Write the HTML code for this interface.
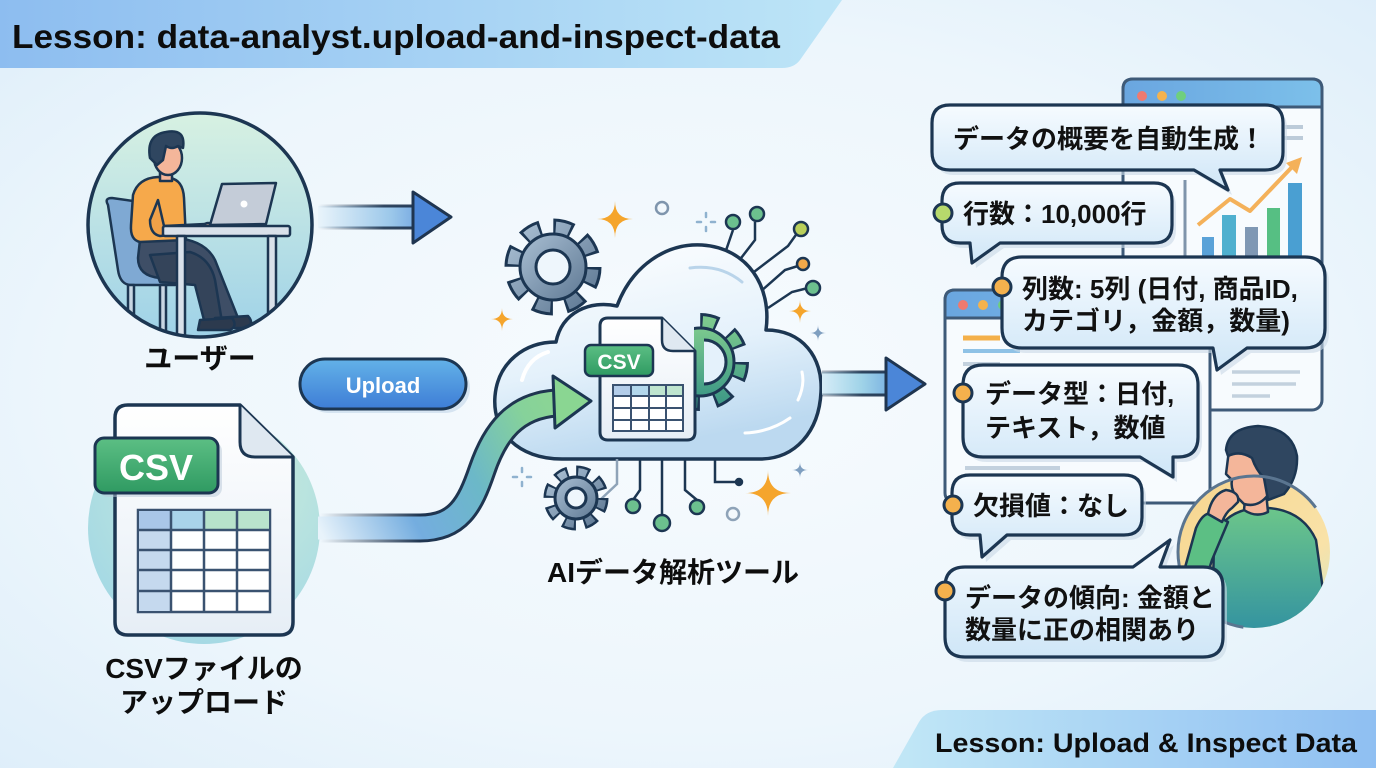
<!DOCTYPE html>
<html><head><meta charset="utf-8"><style>
html,body{margin:0;padding:0;background:#eef7fc;}
svg{display:block;}
text{font-family:"Liberation Sans","Noto Sans CJK JP",sans-serif;font-weight:bold;}
</style></head><body>
<svg width="1376" height="768" viewBox="0 0 1376 768" xmlns="http://www.w3.org/2000/svg">
<defs>
 <radialGradient id="bg" cx="0.5" cy="0.5" r="0.75">
  <stop offset="0" stop-color="#f7fbfe"/><stop offset="0.6" stop-color="#edf6fc"/><stop offset="1" stop-color="#dcedf9"/>
 </radialGradient>
 <linearGradient id="hdr" x1="0" y1="0" x2="1" y2="0">
  <stop offset="0" stop-color="#8dbdf0"/><stop offset="1" stop-color="#bde5f7"/>
 </linearGradient>
 <linearGradient id="ftr" x1="0" y1="0" x2="1" y2="0">
  <stop offset="0" stop-color="#c1e7f6"/><stop offset="1" stop-color="#8fbff2"/>
 </linearGradient>
 <linearGradient id="ucirc" x1="0" y1="0" x2="0" y2="1">
  <stop offset="0" stop-color="#d7f1e2"/><stop offset="1" stop-color="#9fd2e8"/>
 </linearGradient>
 <radialGradient id="csvcirc" cx="0.6" cy="0.3" r="0.8">
  <stop offset="0" stop-color="#c8ecd6"/><stop offset="1" stop-color="#98d3e3"/>
 </radialGradient>
 <linearGradient id="arr1" x1="318" y1="0" x2="450" y2="0" gradientUnits="userSpaceOnUse">
  <stop offset="0" stop-color="#e9f4fb"/><stop offset="0.55" stop-color="#9cc8ea"/><stop offset="1" stop-color="#4b86d8"/>
 </linearGradient>
 <linearGradient id="arr1s" x1="318" y1="0" x2="450" y2="0" gradientUnits="userSpaceOnUse">
  <stop offset="0" stop-color="#1f3550" stop-opacity="0"/><stop offset="0.5" stop-color="#1f3550" stop-opacity="0.9"/><stop offset="1" stop-color="#1f3550"/>
 </linearGradient>
 <linearGradient id="arr3" x1="820" y1="0" x2="925" y2="0" gradientUnits="userSpaceOnUse">
  <stop offset="0" stop-color="#d9eef8"/><stop offset="0.4" stop-color="#9fd3e8"/><stop offset="1" stop-color="#4b86d8"/>
 </linearGradient>
 <linearGradient id="arr3s" x1="820" y1="0" x2="925" y2="0" gradientUnits="userSpaceOnUse">
  <stop offset="0" stop-color="#1f3550" stop-opacity="0.3"/><stop offset="0.4" stop-color="#1f3550" stop-opacity="0.9"/><stop offset="1" stop-color="#1f3550"/>
 </linearGradient>
 <linearGradient id="arr2" x1="320" y1="530" x2="580" y2="395" gradientUnits="userSpaceOnUse">
  <stop offset="0" stop-color="#e8f3fb"/><stop offset="0.3" stop-color="#74addf"/><stop offset="0.55" stop-color="#6cb8c8"/><stop offset="0.8" stop-color="#86d29a"/><stop offset="1" stop-color="#8fd690"/>
 </linearGradient>
 <linearGradient id="arr2s" x1="320" y1="0" x2="420" y2="0" gradientUnits="userSpaceOnUse">
  <stop offset="0" stop-color="#1f3550" stop-opacity="0"/><stop offset="1" stop-color="#1f3550"/>
 </linearGradient>
 <linearGradient id="pill" x1="0" y1="0" x2="0" y2="1">
  <stop offset="0" stop-color="#63b2e8"/><stop offset="1" stop-color="#3e7dd6"/>
 </linearGradient>
 <linearGradient id="cloud" x1="0" y1="0" x2="0.3" y2="1">
  <stop offset="0" stop-color="#ffffff"/><stop offset="0.6" stop-color="#e4f1fb"/><stop offset="1" stop-color="#bcd9f0"/>
 </linearGradient>
 <linearGradient id="doc" x1="0" y1="0" x2="0" y2="1">
  <stop offset="0" stop-color="#ffffff"/><stop offset="1" stop-color="#e6eef6"/>
 </linearGradient>
 <linearGradient id="green" x1="0" y1="0" x2="0" y2="1">
  <stop offset="0" stop-color="#5cbf84"/><stop offset="1" stop-color="#2f9a62"/>
 </linearGradient>
 <linearGradient id="gear" x1="0" y1="0" x2="1" y2="1">
  <stop offset="0" stop-color="#a9bfd3"/><stop offset="1" stop-color="#5f7994"/>
 </linearGradient>
 <linearGradient id="ggear" x1="0" y1="0" x2="0" y2="1">
  <stop offset="0" stop-color="#7cc98e"/><stop offset="1" stop-color="#3f9a86"/>
 </linearGradient>
 <linearGradient id="bub" x1="0" y1="0" x2="0" y2="1">
  <stop offset="0" stop-color="#f6fbff"/><stop offset="1" stop-color="#cfe6f7"/>
 </linearGradient>
 <linearGradient id="winbar" x1="0" y1="0" x2="1" y2="0">
  <stop offset="0" stop-color="#6aa6e0"/><stop offset="1" stop-color="#7cc0ea"/>
 </linearGradient>
 <linearGradient id="tcirc" x1="0" y1="0" x2="1" y2="1">
  <stop offset="0" stop-color="#f6d58e"/><stop offset="0.7" stop-color="#f9e2a8"/><stop offset="1" stop-color="#cfe6c8"/>
 </linearGradient>
 <linearGradient id="shirt" x1="0" y1="0" x2="0" y2="1">
  <stop offset="0" stop-color="#6cc68a"/><stop offset="1" stop-color="#2f8fa2"/>
 </linearGradient>
 <clipPath id="uclip"><circle cx="200" cy="225" r="112"/></clipPath>
 <clipPath id="tclip"><rect x="1100" y="380" width="276" height="170"/><circle cx="1254" cy="552" r="76"/></clipPath>
 <clipPath id="gclip"><rect x="694" y="300" width="60" height="120"/></clipPath>
</defs>

<!-- background -->
<rect width="1376" height="768" fill="url(#bg)"/>

<!-- header -->
<path d="M0 0 H842 L800 60 Q794 68 782 68 H0 Z" fill="url(#hdr)"/>
<text x="12" y="48" font-size="33" fill="#0d0d0d" textLength="768" lengthAdjust="spacingAndGlyphs">Lesson: data-analyst.upload-and-inspect-data</text>

<!-- footer -->
<path d="M1376 710 H942 Q926 710 919 722 L893 768 H1376 Z" fill="url(#ftr)"/>
<text x="935" y="752" font-size="27" fill="#0d0d0d" textLength="422" lengthAdjust="spacingAndGlyphs">Lesson: Upload &amp; Inspect Data</text>

<!-- ===== User circle ===== -->
<circle cx="200" cy="225" r="112" fill="url(#ucirc)"/>
<g clip-path="url(#uclip)" stroke="#1c3652" stroke-width="2.5" stroke-linejoin="round">
 <!-- chair -->
 <path d="M108 205 Q104 198 112 198 L140 202 L160 270 L175 272 L175 285 L130 285 Q120 284 118 270 Z" fill="#7fa9d3"/>
 <rect x="128" y="285" width="6" height="60" fill="#c8d6e3"/>
 <rect x="160" y="285" width="6" height="60" fill="#c8d6e3"/>
 <!-- pants -->
 <path d="M140 240 L175 238 Q205 240 215 260 L238 318 L218 322 L196 275 L160 278 Q138 276 138 258 Z" fill="#3e4e66"/>
 <path d="M150 255 L190 252 Q210 258 215 280 L222 322 L205 324 L195 285 L160 282 Z" fill="#34445a"/>
 <path d="M215 318 L248 316 Q255 324 246 328 L212 328 Z" fill="#2c3a4e"/>
 <path d="M200 320 L232 318 Q238 326 230 330 L198 330 Z" fill="#2c3a4e"/>
 <!-- torso -->
 <path d="M133 195 Q138 178 158 177 L170 178 Q183 180 184 198 L186 240 L140 242 Q130 240 131 225 Z" fill="#f6a94b"/>
 <!-- arm -->
 <path d="M158 200 L164 226 L205 224 L205 232 L160 236 Q150 234 150 220 Z" fill="#f0a048"/>
 <circle cx="208" cy="228" r="5" fill="#f4b89a"/>
 <!-- head -->
 <rect x="160" y="165" width="12" height="16" fill="#f4b69a"/>
 <ellipse cx="168" cy="158" rx="14" ry="17" fill="#f4b69a"/>
 <path d="M150 158 Q146 135 166 132 Q186 128 183 148 L178 146 Q172 150 166 146 L163 160 L157 165 Z" fill="#2f4660"/>
 <!-- laptop -->
 <path d="M222 184 L276 183 L266 224 L210 225 Z" fill="#c4ccd8"/>
 <circle cx="244" cy="204" r="3.5" fill="#fff" stroke="none"/>
 <!-- desk -->
 <rect x="163" y="226" width="127" height="10" rx="2" fill="#d9e1ea"/>
 <rect x="177" y="236" width="8" height="110" fill="#d9e1ea"/>
 <rect x="268" y="236" width="8" height="110" fill="#d9e1ea"/>
</g>
<circle cx="200" cy="225" r="112" fill="none" stroke="#1c3652" stroke-width="3.5"/>
<text x="200" y="368" font-size="28" fill="#0d0d0d" text-anchor="middle">ユーザー</text>

<!-- arrow 1 -->
<rect x="318" y="206" width="97" height="22" fill="url(#arr1)"/>
<line x1="318" y1="206" x2="414" y2="206" stroke="url(#arr1s)" stroke-width="3"/>
<line x1="318" y1="228" x2="414" y2="228" stroke="url(#arr1s)" stroke-width="3"/>
<path d="M413 192 L451 217 L413 243 Z" fill="#4b86d8" stroke="#1f3550" stroke-width="3" stroke-linejoin="round"/>

<!-- Upload pill -->
<rect x="304" y="363" width="166" height="50" rx="25" fill="#c9dceb" opacity="0.7"/>
<rect x="300" y="359" width="166" height="50" rx="25" fill="url(#pill)" stroke="#1c3652" stroke-width="3"/>
<text x="383" y="393" font-size="22" fill="#ffffff" text-anchor="middle">Upload</text>

<!-- ===== CSV doc ===== -->
<circle cx="204" cy="528" r="116" fill="url(#csvcirc)" opacity="0.9"/>
<path d="M128 405 H240 L293 457 V622 Q293 635 280 635 H128 Q115 635 115 622 V418 Q115 405 128 405 Z" fill="url(#doc)" stroke="#1c3652" stroke-width="3.5" stroke-linejoin="round"/>
<path d="M240 405 V442 Q240 457 255 457 H293" fill="#dfe8f1" stroke="#1c3652" stroke-width="3" stroke-linejoin="round"/>
<rect x="99" y="442" width="123" height="55" rx="9" fill="#b8c8d8" opacity="0.5"/>
<rect x="95" y="438" width="123" height="55" rx="9" fill="url(#green)" stroke="#1c3652" stroke-width="3"/>
<text x="156" y="480" font-size="36" fill="#ffffff" text-anchor="middle">CSV</text>
<g>
 <rect x="138" y="510" width="132" height="102" fill="#ffffff" stroke="#3a5270" stroke-width="2.5"/>
 <rect x="139" y="511" width="32" height="19" fill="#a9c6e8"/>
 <rect x="171" y="511" width="33" height="19" fill="#a9d3ea"/>
 <rect x="204" y="511" width="33" height="19" fill="#b7e2cb"/>
 <rect x="237" y="511" width="32" height="19" fill="#b9e3cc"/>
 <rect x="139" y="530" width="32" height="81" fill="#c5d9ee"/>
 <path d="M171 510 V612 M204 510 V612 M237 510 V612 M138 530 H270 M138 550 H270 M138 570 H270 M138 591 H270" stroke="#3a5270" stroke-width="2.5" fill="none"/>
</g>
<text x="204" y="678" font-size="28" fill="#0d0d0d" text-anchor="middle">CSVファイルの</text>
<text x="204" y="712" font-size="28" fill="#0d0d0d" text-anchor="middle">アップロード</text>

<!-- ===== Cloud area ===== -->
<!-- big gear -->
<g transform="translate(553,267)">
 <circle r="39" fill="none" stroke="#1c3652" stroke-width="19" stroke-dasharray="18.5 12.13"/>
 <circle r="39" fill="none" stroke="url(#gear)" stroke-width="13" stroke-dasharray="13.5 17.13" stroke-dashoffset="-2.5"/>
 <circle r="33" fill="url(#gear)" stroke="#1c3652" stroke-width="3"/>
 <circle r="17" fill="#eef6fc" stroke="#1c3652" stroke-width="3"/>
</g>
<!-- circuit top -->
<g stroke="#1c3652" stroke-width="2.5" fill="none">
 <path d="M722 262 L733 230"/>
 <path d="M738 262 L755 240 L755 222"/>
 <path d="M750 275 L788 246 L798 232"/>
 <path d="M760 292 L785 270 L798 266"/>
 <path d="M768 308 L792 292 L808 288"/>
</g>
<g stroke="#1c3652" stroke-width="2.5">
 <circle cx="733" cy="222" r="7" fill="#6cc08e"/>
 <circle cx="757" cy="214" r="7" fill="#6cc08e"/>
 <circle cx="801" cy="229" r="7" fill="#b9cf5a"/>
 <circle cx="803" cy="264" r="6" fill="#f2a94a"/>
 <circle cx="813" cy="288" r="7" fill="#6cc08e"/>
</g>
<circle cx="662" cy="208" r="6" fill="none" stroke="#7f95ad" stroke-width="2.5"/>
<!-- cloud -->
<path d="M562 459 C518 459 492 432 495 396 C498 362 525 342 556 342 C562 312 590 300 617 306 C632 266 666 243 702 245 C748 248 772 287 766 330 C802 330 823 357 821 392 C819 432 795 459 760 459 Z" fill="url(#cloud)" stroke="#1c3652" stroke-width="3.5" stroke-linejoin="round"/>
<path d="M522 380 Q528 358 548 352" stroke="#ffffff" stroke-width="4" fill="none" stroke-linecap="round"/>
<path d="M690 268 Q720 264 742 282" stroke="#b9d4ea" stroke-width="3" fill="none" stroke-linecap="round"/>
<path d="M745 433 Q770 432 790 418" stroke="#ffffff" stroke-width="3" fill="none" stroke-linecap="round"/>
<path d="M798 400 Q805 385 802 372" stroke="#ffffff" stroke-width="3" fill="none" stroke-linecap="round"/>
<!-- green gear (in front of cloud, behind doc) -->
<g transform="translate(700,362)" clip-path="url(#gclip)">
 <g transform="translate(-700,-362)"></g>
</g>
<g clip-path="url(#gclip)">
 <g transform="translate(700,362)">
  <circle r="40" fill="none" stroke="#1c3652" stroke-width="18" stroke-dasharray="17 14.4"/>
  <circle r="40" fill="none" stroke="url(#ggear)" stroke-width="12" stroke-dasharray="12 19.4" stroke-dashoffset="-2.5"/>
  <circle r="34" fill="url(#ggear)" stroke="#1c3652" stroke-width="3"/>
  <path d="M4 -22 A22 22 0 0 1 4 22" fill="#e4f1fb" stroke="#1c3652" stroke-width="3"/>
 </g>
</g>
<!-- doc in cloud -->
<path d="M608 318 H662 L695 351 V432 Q695 440 687 440 H608 Q600 440 600 432 V326 Q600 318 608 318 Z" fill="url(#doc)" stroke="#1c3652" stroke-width="3" stroke-linejoin="round"/>
<path d="M662 318 V340 Q662 351 673 351 H695" fill="#dfe8f1" stroke="#1c3652" stroke-width="2.5" stroke-linejoin="round"/>
<rect x="585" y="345" width="68" height="31" rx="6" fill="url(#green)" stroke="#1c3652" stroke-width="2.5"/>
<text x="619" y="369" font-size="21" fill="#ffffff" text-anchor="middle">CSV</text>
<rect x="613" y="385" width="70" height="46" fill="#ffffff" stroke="#3a5270" stroke-width="2"/>
<rect x="614" y="386" width="17" height="10" fill="#b3cde9"/>
<rect x="631" y="386" width="18" height="10" fill="#b3d8ec"/>
<rect x="649" y="386" width="17" height="10" fill="#bfe5cf"/>
<rect x="666" y="386" width="16" height="10" fill="#bfe5cf"/>
<path d="M631 385 V431 M649 385 V431 M666 385 V431 M613 396 H683 M613 408 H683 M613 420 H683" stroke="#3a5270" stroke-width="2" fill="none"/>

<!-- circuit bottom -->
<g stroke="#1c3652" stroke-width="2.5" fill="none">
 <path d="M617 459 V484 L600 500" stroke="#8ea3b8"/>
 <path d="M640 459 V490 L633 500"/>
 <path d="M662 459 V515"/>
 <path d="M685 459 V490 L697 500"/>
 <path d="M715 459 V482 H738"/>
</g>
<g stroke="#1c3652" stroke-width="2.5">
 <circle cx="633" cy="506" r="7" fill="#6cc08e"/>
 <circle cx="662" cy="523" r="8" fill="#6cc08e"/>
 <circle cx="697" cy="507" r="7" fill="#6cc08e"/>
 <circle cx="739" cy="482" r="3" fill="#1c3652"/>
</g>
<circle cx="733" cy="514" r="6" fill="none" stroke="#8ea3b8" stroke-width="2.5"/>
<!-- small gear -->
<g transform="translate(576,498)">
 <circle r="25" fill="none" stroke="#1c3652" stroke-width="15" stroke-dasharray="12 7.63"/>
 <circle r="25" fill="none" stroke="url(#gear)" stroke-width="10" stroke-dasharray="8 11.63" stroke-dashoffset="-2"/>
 <circle r="21" fill="url(#gear)" stroke="#1c3652" stroke-width="3"/>
 <circle r="10" fill="#eef6fc" stroke="#1c3652" stroke-width="3"/>
</g>
<!-- sparkles -->
<g fill="#f5a52c">
 <path d="M615 201 Q615 219 633 219 Q615 219 615 238 Q615 219 597 219 Q615 219 615 201 Z"/>
 <path d="M502 308 Q502 319 513 319 Q502 319 502 331 Q502 319 491 319 Q502 319 502 308 Z"/>
 <path d="M800 300 Q800 311 811 311 Q800 311 800 323 Q800 311 789 311 Q800 311 800 300 Z"/>
 <path d="M768 470 Q768 493 791 493 Q768 493 768 516 Q768 493 745 493 Q768 493 768 470 Z"/>
</g>
<g fill="#7f9fc0">
 <path d="M818 325 Q818 333 826 333 Q818 333 818 341 Q818 333 810 333 Q818 333 818 325 Z"/>
 <path d="M800 462 Q800 470 808 470 Q800 470 800 478 Q800 470 792 470 Q800 470 800 462 Z"/>
</g>
<g stroke="#8fb2cf" stroke-width="2.5" stroke-linecap="round">
 <path d="M706 213 V217 M706 227 V231 M697 222 H701 M711 222 H715"/>
 <path d="M522 468 V472 M522 482 V486 M513 477 H517 M527 477 H531"/>
</g>

<!-- curved arrow -->
<path d="M318 528 H420 C458 528 470 505 482 470 C495 432 515 406 556 403" fill="none" stroke="url(#arr2s)" stroke-width="29"/>
<path d="M318 528 H420 C458 528 470 505 482 470 C495 432 515 406 556 403" fill="none" stroke="url(#arr2)" stroke-width="23"/>
<path d="M553 376 L591 401 L555 428 Z" fill="#8ad692" stroke="#1c3652" stroke-width="3" stroke-linejoin="round"/>

<text x="673" y="582" font-size="28" fill="#0d0d0d" text-anchor="middle">AIデータ解析ツール</text>

<!-- arrow 3 -->
<rect x="822" y="372" width="65" height="23" fill="url(#arr3)"/>
<line x1="822" y1="372" x2="887" y2="372" stroke="url(#arr3s)" stroke-width="3"/>
<line x1="822" y1="395" x2="887" y2="395" stroke="url(#arr3s)" stroke-width="3"/>
<path d="M886 358 L925 384 L886 410 Z" fill="#4b86d8" stroke="#1f3550" stroke-width="3" stroke-linejoin="round"/>

<!-- ===== Right side windows ===== -->
<!-- window A -->
<rect x="1123" y="79" width="199" height="331" rx="10" fill="#f7fbfe" stroke="#3e5a78" stroke-width="3"/>
<path d="M1133 79 H1312 Q1322 79 1322 89 V107 H1123 V89 Q1123 79 1133 79 Z" fill="url(#winbar)" stroke="#3e5a78" stroke-width="3"/>
<circle cx="1142" cy="96" r="5" fill="#ef7a6f"/>
<circle cx="1162" cy="96" r="5" fill="#f4b24e"/>
<circle cx="1181" cy="96" r="5" fill="#6fcf7e"/>
<path d="M1285 127 H1303 M1268 138 H1303" stroke="#bccbd9" stroke-width="4"/>
<line x1="1185" y1="180" x2="1185" y2="256" stroke="#7f94ab" stroke-width="3"/>
<rect x="1202" y="237" width="12" height="19" fill="#5aa2d8"/>
<rect x="1222" y="215" width="14" height="41" fill="#4fb0cf"/>
<rect x="1245" y="227" width="13" height="29" fill="#7f98b4"/>
<rect x="1267" y="208" width="13" height="48" fill="#56bf83"/>
<rect x="1288" y="183" width="14" height="73" fill="#4a9fd2"/>
<path d="M1198 225 L1230 199 L1250 211 L1293 166" stroke="#f4b15a" stroke-width="4" fill="none" stroke-linejoin="round"/>
<path d="M1302 157 L1286 163 L1297 174 Z" fill="#f4b15a"/>
<path d="M1232 372 H1300 M1232 384 H1296 M1232 396 H1270" stroke="#c3d1de" stroke-width="3.5"/>
<line x1="1122" y1="410" x2="1122" y2="475" stroke="#3e5a78" stroke-width="3"/>

<!-- window B -->
<rect x="945" y="290" width="265" height="213" rx="10" fill="#f7fbfe" stroke="#3e5a78" stroke-width="3"/>
<path d="M955 290 H1200 Q1210 290 1210 300 V318 H945 V300 Q945 290 955 290 Z" fill="url(#winbar)" stroke="#3e5a78" stroke-width="3"/>
<circle cx="963" cy="305" r="5" fill="#ef7a6f"/>
<circle cx="983" cy="305" r="5" fill="#f4b24e"/>
<circle cx="1003" cy="305" r="5" fill="#6fcf7e"/>
<path d="M963 338 H1000" stroke="#f4b04a" stroke-width="5"/>
<path d="M963 351 H1020" stroke="#8fc2e6" stroke-width="4"/>
<path d="M963 364 H1000" stroke="#c3d1de" stroke-width="4"/>
<path d="M965 468 H1060" stroke="#c3d1de" stroke-width="4"/>

<!-- thinking person -->
<circle cx="1254" cy="552" r="76" fill="url(#tcirc)"/>
<g clip-path="url(#tclip)" stroke="#1c3652" stroke-width="2.5" stroke-linejoin="round">
 <path d="M1212 640 L1214 540 Q1222 512 1255 508 Q1300 505 1316 540 L1330 640 Z" fill="url(#shirt)"/>
 <path d="M1176 600 L1196 528 Q1204 510 1214 514 L1228 522 L1212 560 L1196 610 Z" fill="#5cbf84"/>
 <path d="M1246 490 L1266 492 L1268 512 Q1256 518 1244 510 Z" fill="#f4b69a"/>
 <path d="M1228 458 Q1230 440 1250 440 Q1274 444 1272 470 L1268 495 Q1258 508 1244 504 L1238 498 Q1230 490 1232 480 L1226 474 Z" fill="#f4b69a"/>
 <path d="M1226 450 Q1228 428 1258 426 Q1292 428 1297 456 Q1298 478 1284 494 L1268 500 L1264 478 Q1256 470 1252 458 Q1240 450 1228 456 Z" fill="#2f4660"/>
 <path d="M1208 514 Q1212 494 1226 490 Q1240 492 1238 502 L1232 508 Q1226 512 1222 522 Z" fill="#f4b69a"/>
</g>
<circle cx="1254" cy="552" r="76" fill="none" stroke="#5a7590" stroke-width="3" stroke-dasharray="300 180" stroke-dashoffset="-130"/>

<!-- ===== Speech bubbles ===== -->
<g stroke="#1c3652" stroke-width="3.2" stroke-linejoin="round">
 <!-- B1 -->
 <path transform="translate(4,5)" d="M950 105 H1265 Q1283 105 1283 123 V152 Q1283 170 1265 170 H1220 L1228 190 L1194 170 H950 Q932 170 932 152 V123 Q932 105 950 105 Z" fill="#c9d9e6" stroke="none" opacity="0.6"/>
 <path d="M950 105 H1265 Q1283 105 1283 123 V152 Q1283 170 1265 170 H1220 L1228 190 L1194 170 H950 Q932 170 932 152 V123 Q932 105 950 105 Z" fill="url(#bub)"/>
 <!-- B2 -->
 <path transform="translate(4,5)" d="M960 183 H1154 Q1172 183 1172 201 V225 Q1172 243 1154 243 H1000 L972 263 L970 243 H960 Q942 243 942 225 V201 Q942 183 960 183 Z" fill="#c9d9e6" stroke="none" opacity="0.6"/>
 <path d="M960 183 H1154 Q1172 183 1172 201 V225 Q1172 243 1154 243 H1000 L972 263 L970 243 H960 Q942 243 942 225 V201 Q942 183 960 183 Z" fill="url(#bub)"/>
 <!-- B3 -->
 <path transform="translate(4,5)" d="M1022 257 H1305 Q1325 257 1325 277 V328 Q1325 348 1305 348 H1247 L1217 370 L1213 348 H1022 Q1002 348 1002 328 V277 Q1002 257 1022 257 Z" fill="#c9d9e6" stroke="none" opacity="0.6"/>
 <path d="M1022 257 H1305 Q1325 257 1325 277 V328 Q1325 348 1305 348 H1247 L1217 370 L1213 348 H1022 Q1002 348 1002 328 V277 Q1002 257 1022 257 Z" fill="url(#bub)"/>
 <!-- B4 -->
 <path transform="translate(4,5)" d="M983 365 H1178 Q1198 365 1198 385 V437 Q1198 457 1178 457 H1173 L1173 477 L1140 457 H983 Q963 457 963 437 V385 Q963 365 983 365 Z" fill="#c9d9e6" stroke="none" opacity="0.6"/>
 <path d="M983 365 H1178 Q1198 365 1198 385 V437 Q1198 457 1178 457 H1173 L1173 477 L1140 457 H983 Q963 457 963 437 V385 Q963 365 983 365 Z" fill="url(#bub)"/>
 <!-- B5 -->
 <path transform="translate(4,5)" d="M970 475 H1124 Q1142 475 1142 493 V517 Q1142 535 1124 535 H1007 L982 557 L980 535 H970 Q952 535 952 517 V493 Q952 475 970 475 Z" fill="#c9d9e6" stroke="none" opacity="0.6"/>
 <path d="M970 475 H1124 Q1142 475 1142 493 V517 Q1142 535 1124 535 H1007 L982 557 L980 535 H970 Q952 535 952 517 V493 Q952 475 970 475 Z" fill="url(#bub)"/>
 <!-- B6 -->
 <path transform="translate(4,5)" d="M965 567 H1133 L1170 540 L1160 567 H1203 Q1223 567 1223 587 V637 Q1223 657 1203 657 H965 Q945 657 945 637 V587 Q945 567 965 567 Z" fill="#c9d9e6" stroke="none" opacity="0.6"/>
 <path d="M965 567 H1133 L1170 540 L1160 567 H1203 Q1223 567 1223 587 V637 Q1223 657 1203 657 H965 Q945 657 945 637 V587 Q945 567 965 567 Z" fill="url(#bub)"/>
</g>
<!-- bullet dots -->
<g stroke="#1c3652" stroke-width="3">
 <circle cx="943" cy="213" r="9" fill="#b7d96c"/>
 <circle cx="1002" cy="287" r="9" fill="#f4b14d"/>
 <circle cx="963" cy="393" r="9" fill="#f4b14d"/>
 <circle cx="953" cy="505" r="9" fill="#f4b14d"/>
 <circle cx="945" cy="591" r="9" fill="#f4b14d"/>
</g>
<g font-size="26" fill="#111111">
 <text x="953" y="148">データの概要を自動生成！</text>
 <text x="963" y="223">行数：10,000行</text>
 <text x="1022" y="298">列数: 5列 (日付, 商品ID,</text>
 <text x="1022" y="330">カテゴリ，金額，数量)</text>
 <text x="985" y="403">データ型：日付,</text>
 <text x="985" y="437">テキスト，数値</text>
 <text x="973" y="515">欠損値：なし</text>
 <text x="965" y="607">データの傾向: 金額と</text>
 <text x="965" y="639">数量に正の相関あり</text>
</g>
</svg>
</body></html>
